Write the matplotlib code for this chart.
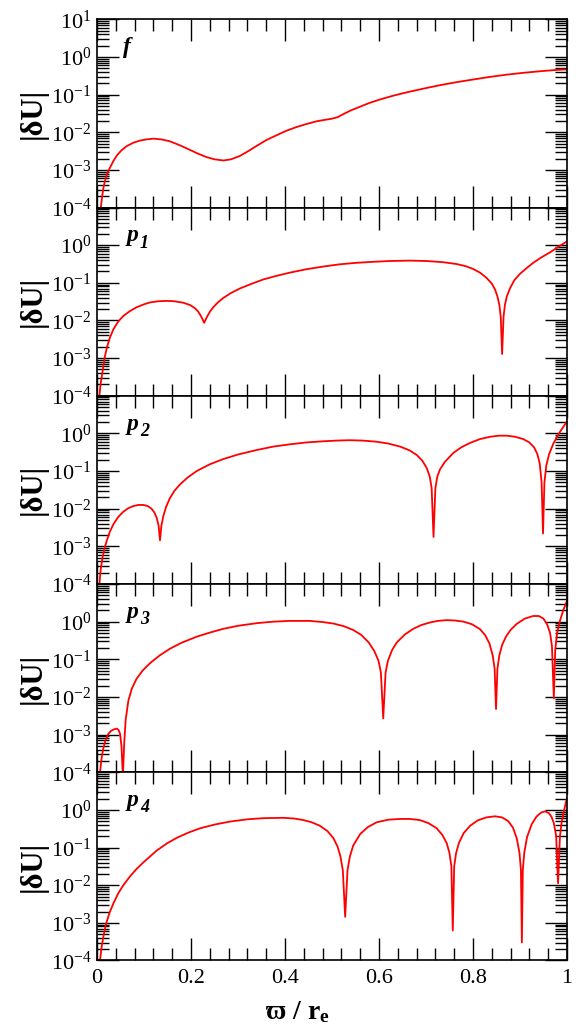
"""Stacked |dU| profiles for the f and p1..p4 modes (log scale, Grace-like styling)."""
import matplotlib
matplotlib.use("Agg")
import matplotlib.pyplot as plt
from matplotlib.ticker import LogLocator, MultipleLocator, FuncFormatter, NullFormatter
import numpy as np

plt.rcParams["font.family"] = ["Liberation Serif", "DejaVu Serif"]
plt.rcParams["mathtext.fontset"] = "custom"
plt.rcParams["mathtext.rm"] = "Liberation Serif"
plt.rcParams["mathtext.it"] = "Liberation Serif:italic:bold"
plt.rcParams["mathtext.bf"] = "Liberation Serif:bold"

# --- data (x, log10 |dU|) ---------------------------------------------------
f_x = [0.008, 0.011, 0.014, 0.018, 0.022, 0.028, 0.035, 0.042, 0.052, 0.063,
       0.077, 0.092, 0.105, 0.12, 0.137, 0.155, 0.175, 0.198, 0.215, 0.233,
       0.25, 0.269, 0.285, 0.304, 0.322, 0.34, 0.36, 0.382, 0.403, 0.425,
       0.446, 0.467, 0.485, 0.50, 0.512, 0.524, 0.54, 0.56, 0.58, 0.602,
       0.63, 0.659, 0.695, 0.73, 0.765, 0.80, 0.836, 0.872, 0.908, 0.943,
       0.972, 1.0]
f_log = [-4.0, -3.7, -3.45, -3.25, -3.08, -2.93, -2.76, -2.62, -2.48, -2.37,
         -2.28, -2.22, -2.19, -2.17, -2.19, -2.24, -2.34, -2.47, -2.57, -2.66,
         -2.72, -2.75, -2.72, -2.63, -2.50, -2.36, -2.21, -2.08, -1.96, -1.86,
         -1.78, -1.71, -1.67, -1.64, -1.60, -1.52, -1.42, -1.32, -1.22, -1.13,
         -1.03, -0.94, -0.84, -0.75, -0.67, -0.60, -0.53, -0.47, -0.42, -0.38,
         -0.35, -0.33]

p1_x = [0.005, 0.008, 0.012, 0.016, 0.021, 0.027, 0.035, 0.045, 0.056, 0.07,
        0.084, 0.1, 0.113, 0.13, 0.148, 0.165, 0.184, 0.198, 0.208, 0.215,
        0.221, 0.225, 0.228, 0.231, 0.235, 0.241, 0.248, 0.258, 0.269, 0.285,
        0.304, 0.33, 0.354, 0.38, 0.41, 0.445, 0.48, 0.515, 0.55, 0.59,
        0.623, 0.666, 0.70, 0.735, 0.765, 0.785, 0.80, 0.815, 0.829, 0.84,
        0.847, 0.852, 0.856, 0.859, 0.862, 0.865, 0.868, 0.872, 0.879, 0.888,
        0.90, 0.915, 0.928, 0.946, 0.964, 0.982, 1.0]
p1_log = [-4.0, -3.65, -3.34, -3.0, -2.72, -2.47, -2.23, -2.03, -1.88, -1.75,
          -1.65, -1.57, -1.52, -1.49, -1.48, -1.49, -1.53, -1.59, -1.67, -1.76,
          -1.88, -1.98, -2.06, -1.98, -1.88, -1.75, -1.64, -1.51, -1.40, -1.27,
          -1.15, -1.02, -0.91, -0.82, -0.73, -0.64, -0.57, -0.51, -0.47, -0.44,
          -0.42, -0.41, -0.42, -0.45, -0.50, -0.56, -0.63, -0.73, -0.87, -1.02,
          -1.18, -1.36, -1.58, -1.9, -2.89, -1.9, -1.58, -1.36, -1.14, -0.93,
          -0.76, -0.6, -0.47, -0.32, -0.19, -0.04, 0.10]

p2_x = [0.005, 0.008, 0.012, 0.016, 0.021, 0.027, 0.035, 0.045, 0.056, 0.066,
        0.077, 0.088, 0.099, 0.108, 0.116, 0.122, 0.127, 0.131, 0.134, 0.137,
        0.141, 0.147, 0.155, 0.165, 0.177, 0.193, 0.212, 0.24, 0.269, 0.30,
        0.34, 0.375, 0.41, 0.445, 0.48, 0.51, 0.538, 0.565, 0.595, 0.62,
        0.645, 0.665, 0.68, 0.692, 0.702, 0.708, 0.712, 0.716, 0.72, 0.724,
        0.73, 0.74, 0.758, 0.775, 0.794, 0.815, 0.836, 0.855, 0.872, 0.89,
        0.907, 0.92, 0.93, 0.937, 0.942, 0.946, 0.949, 0.952, 0.956, 0.962,
        0.971, 0.985, 1.0]
p2_log = [-4.0, -3.6, -3.28, -3.05, -2.84, -2.62, -2.41, -2.22, -2.08, -1.99,
          -1.93, -1.90, -1.90, -1.93, -2.00, -2.1, -2.24, -2.45, -2.84, -2.45,
          -2.2, -1.95, -1.72, -1.52, -1.35, -1.17, -1.0, -0.82, -0.68, -0.56,
          -0.44, -0.35, -0.29, -0.24, -0.21, -0.19, -0.18, -0.19, -0.22, -0.27,
          -0.35, -0.45, -0.57, -0.72, -0.93, -1.15, -1.45, -2.75, -1.45, -1.15,
          -0.95, -0.76, -0.52, -0.37, -0.25, -0.15, -0.09, -0.06, -0.06, -0.09,
          -0.15, -0.24, -0.37, -0.55, -0.80, -1.3, -2.66, -1.3, -0.85, -0.55,
          -0.27, 0.04, 0.32]

p3_x = [0.0064, 0.01, 0.0135, 0.018, 0.024, 0.03, 0.036, 0.042, 0.046, 0.049,
        0.052, 0.055, 0.058, 0.061, 0.0667, 0.074, 0.084, 0.097, 0.113, 0.133,
        0.155, 0.18, 0.212, 0.24, 0.269, 0.30, 0.34, 0.375, 0.41, 0.453,
        0.48, 0.503, 0.525, 0.545, 0.562, 0.578, 0.59, 0.599, 0.604, 0.609,
        0.614, 0.619, 0.628, 0.638, 0.655, 0.673, 0.69, 0.709, 0.725, 0.744,
        0.762, 0.78, 0.798, 0.815, 0.826, 0.835, 0.842, 0.846, 0.849, 0.852,
        0.856, 0.862, 0.87, 0.88, 0.893, 0.91, 0.928, 0.94, 0.95, 0.958,
        0.964, 0.968, 0.972, 0.975, 0.979, 0.985, 0.992, 1.0]
p3_log = [-4.0, -3.6, -3.36, -3.15, -2.98, -2.9, -2.86, -2.84, -2.88, -2.98,
          -3.3, -4.1, -3.2, -2.6, -2.1, -1.78, -1.52, -1.30, -1.10, -0.90,
          -0.72, -0.56, -0.40, -0.29, -0.19, -0.11, -0.04, 0.0, 0.02, 0.02,
          -0.01, -0.05, -0.12, -0.22, -0.35, -0.55, -0.78, -1.04, -1.35, -2.57,
          -1.35, -1.04, -0.75, -0.55, -0.34, -0.19, -0.09, -0.02, 0.02, 0.04,
          0.03, 0.0, -0.07, -0.2, -0.36, -0.58, -0.9, -1.25, -2.32, -1.25,
          -0.9, -0.62, -0.40, -0.22, -0.06, 0.08, 0.15, 0.15, 0.08, -0.08,
          -0.3, -0.65, -2.04, -0.75, -0.3, 0.02, 0.3, 0.56]

p4_x = [0.0064, 0.01, 0.0135, 0.017, 0.0206, 0.027, 0.035, 0.045, 0.056, 0.07,
        0.084, 0.1, 0.127, 0.15, 0.17, 0.195, 0.219, 0.25, 0.283, 0.32,
        0.354, 0.396, 0.42, 0.439, 0.457, 0.474, 0.49, 0.503, 0.512, 0.518,
        0.523, 0.528, 0.533, 0.538, 0.545, 0.56, 0.577, 0.595, 0.62, 0.645,
        0.665, 0.687, 0.705, 0.723, 0.735, 0.744, 0.75, 0.754, 0.757, 0.76,
        0.764, 0.77, 0.78, 0.794, 0.81, 0.828, 0.847, 0.862, 0.875, 0.885,
        0.893, 0.899, 0.902, 0.904, 0.906, 0.909, 0.915, 0.925, 0.935, 0.945,
        0.953, 0.961, 0.967, 0.972, 0.977, 0.981, 0.985, 0.989, 0.994, 1.0]
p4_log = [-4.0, -3.62, -3.37, -3.15, -2.97, -2.72, -2.48, -2.22, -2.0, -1.77,
          -1.57, -1.38, -1.08, -0.88, -0.74, -0.6, -0.49, -0.39, -0.31, -0.25,
          -0.22, -0.21, -0.23, -0.27, -0.33, -0.42, -0.56, -0.75, -0.98, -1.24,
          -1.6, -2.84, -1.6, -1.24, -0.95, -0.64, -0.45, -0.33, -0.26, -0.24,
          -0.24, -0.27, -0.35, -0.49, -0.67, -0.88, -1.15, -1.5, -3.2, -1.5,
          -1.15, -0.88, -0.62, -0.42, -0.28, -0.2, -0.17, -0.2, -0.3, -0.47,
          -0.75, -1.15, -1.6, -3.52, -1.6, -1.15, -0.72, -0.38, -0.18, -0.07,
          -0.04, -0.08, -0.18, -0.35, -0.7, -1.95, -0.7, -0.3, 0.0, 0.32]

panel_names = ["f", "p", "p", "p", "p"]
panel_subs = ["", "1", "2", "3", "4"]
series = [(f_x, f_log), (p1_x, p1_log), (p2_x, p2_log), (p3_x, p3_log), (p4_x, p4_log)]


def _log_label(show_top):
    def fmt(val, pos):
        exp = int(round(np.log10(val)))
        if exp == 1 and not show_top:
            return ""
        return r"$\mathregular{10^{%d}}$" % exp
    return FuncFormatter(fmt)


fig = plt.figure(figsize=(5.82, 10.32), dpi=100)
axes = fig.subplots(5, 1, sharex=True)
fig.subplots_adjust(left=0.1667, right=0.9742, top=0.9813, bottom=0.0693, hspace=0)

lab_font = dict(family="Liberation Serif", style="italic", weight="bold")

for i, (ax, (xs, logs)) in enumerate(zip(axes, series)):
    ax.plot(xs, 10.0 ** np.asarray(logs), color="red", lw=1.3)
    ax.set_yscale("log")
    ax.set_ylim(1e-4, 1e1)
    ax.set_xlim(0, 1)

    ax.yaxis.set_major_locator(LogLocator(base=10, numticks=20))
    ax.yaxis.set_minor_locator(LogLocator(base=10, subs=np.arange(2, 10), numticks=20))
    ax.yaxis.set_major_formatter(_log_label(i == 0))
    ax.yaxis.set_minor_formatter(NullFormatter())
    ax.xaxis.set_major_locator(MultipleLocator(0.2))
    ax.xaxis.set_minor_locator(MultipleLocator(0.04))

    ax.tick_params(which="both", direction="in", top=True, right=True, labelsize=16)
    ax.tick_params(which="major", length=16, width=1.0, pad=4)
    ax.tick_params(which="minor", length=8.5, width=1.0)
    for sp in ax.spines.values():
        sp.set_linewidth(1.2)

    ax.set_ylabel("|δU|", fontsize=22, fontweight="bold")
    ax.yaxis.set_label_coords(-0.104, 0.5)

    x0 = 0.055 if i == 0 else 0.063
    ax.text(x0, 0.82, panel_names[i], transform=ax.transAxes,
            fontsize=17, va="baseline", ha="left", **lab_font)
    if panel_subs[i]:
        ax.annotate(panel_subs[i], xy=(x0, 0.82), xycoords="axes fraction",
                    xytext=(9.5, -4.5), textcoords="offset points",
                    fontsize=13, va="baseline", ha="left", **lab_font)

axes[-1].xaxis.set_major_formatter(FuncFormatter(lambda v, p: "%g" % round(v, 2)))
axes[-1].tick_params(axis="x", pad=6)

fig.text(298 / 582, 1 - 1012 / 1032, r"$\mathbf{\varpi\ /\ r_e}$",
         fontsize=20, ha="center", va="center")

fig.savefig("out.png", dpi=100)
